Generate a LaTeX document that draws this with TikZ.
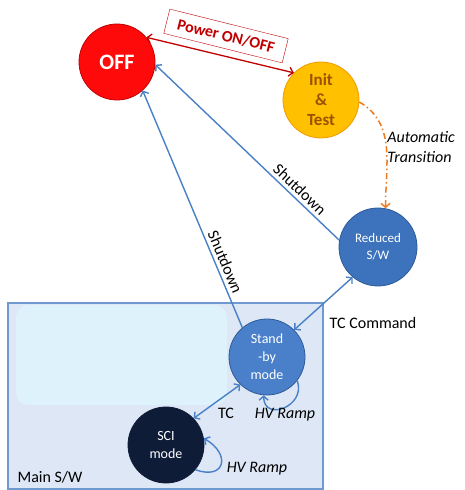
\documentclass[tikz,border=0pt]{standalone}
\usepackage{fontspec}
\setmainfont{Carlito}
\usetikzlibrary{arrows.meta}

\definecolor{offred}{HTML}{FF0A0A}
\definecolor{offedge}{HTML}{C00000}
\definecolor{initfill}{HTML}{FFC000}
\definecolor{initedge}{HTML}{F29A00}
\definecolor{inittext}{HTML}{9C5200}
\definecolor{redfill}{HTML}{3D73BD}
\definecolor{stbfill}{HTML}{4A80CA}
\definecolor{statedge}{HTML}{2E5A98}
\definecolor{scifill}{HTML}{0E1C38}
\definecolor{linkblue}{HTML}{4A80C6}
\definecolor{autoorange}{HTML}{EE7A1E}
\definecolor{boxfill}{HTML}{DDE7F5}
\definecolor{boxedge}{HTML}{6E9AD0}
\definecolor{ghost}{HTML}{DDF2FB}

\begin{document}
\begin{tikzpicture}[x=1pt,y=1pt,
    >={Straight Barb[length=4pt,width=9pt]},
    state/.style={circle,minimum size=76pt,inner sep=0pt,align=center,draw,line width=0.8pt},
    link/.style={draw=linkblue,line width=1.4pt},
    lbl/.style={font=\fontsize{16}{19}\selectfont}]
  \useasboundingbox (0,0) rectangle (464,490);
  % main s/w area
  \draw[draw=boxedge,fill=boxfill,line width=1.5pt] (8,1) rectangle (323,187);
  \fill[ghost,rounded corners=12pt] (16,85) rectangle (227,185);
  \node[lbl] (mainsw) at (50,13) {Main S/W};
  % states
  \node[state,fill=offred,draw=offedge,text=white,font=\bfseries\fontsize{22}{24}\selectfont] (off) at (117,428) {OFF};
  \node[state,fill=initfill,draw=initedge,text=inittext,font=\bfseries\fontsize{17}{20}\selectfont] (init) at (321,390) {Init\\\&\\Test};
  \node[state,minimum size=78pt,fill=redfill,draw=statedge,text=white,font=\fontsize{13}{17}\selectfont] (reduced) at (378,243) {Reduced\\S/W};
  \node[state,fill=stbfill,draw=statedge,text=white,font=\fontsize{14}{18}\selectfont] (standby) at (267,133) {Stand\\-by\\mode};
  \node[state,fill=scifill,draw=scifill,text=white,font=\fontsize{14}{18}\selectfont] (sci) at (166,45) {SCI\\mode};
  % power on/off
  \draw[<->,offedge,line width=1.3pt] (off.40) -- (init.135);
  \node[draw=offedge,text=offedge,rotate=-14,minimum width=122pt,minimum height=25pt,inner sep=2pt,
    font=\bfseries\fontsize{16}{18}\selectfont] (power) at (226,454) {Power ON/OFF};
  % automatic transition
  \draw[->,autoorange,line width=1.5pt,dash pattern=on 6pt off 3pt on 1.5pt off 3pt]
    (init.-3) to[out=-30,in=90] (reduced.79);
  \node[lbl,align=left,font=\itshape\fontsize{16}{20}\selectfont] (auto) at (421,343) {Automatic\\Transition};
  % shutdown
  \draw[<-,link] (off.-4) -- node[lbl,sloped,above,pos=0.75] {Shutdown} (reduced.170);
  \draw[<-,link] (off.-48) -- node[lbl,sloped,above,pos=0.74] {Shutdown} (standby.130);
  % tc commands
  \draw[<->,link] (reduced.230) -- (standby.45);
  \node[lbl] (tccmd) at (373,167) {TC Command};
  \draw[<->,link] (sci.44) -- (standby.226);
  \node[lbl] (tc) at (226,77) {TC};
  % hv ramps
  \draw[->,link] (standby.-38) to[out=-70,in=-90,looseness=1.9] (standby.-95);
  \node[lbl,font=\itshape\fontsize{16}{19}\selectfont] (hvstb) at (285,75) {HV Ramp};
  \draw[->,link] (sci.-40) to[out=-20,in=-30,looseness=2.5] (sci.10);
  \node[lbl,font=\itshape\fontsize{16}{19}\selectfont] (hvsci) at (257,21) {HV Ramp};
\end{tikzpicture}
\end{document}
